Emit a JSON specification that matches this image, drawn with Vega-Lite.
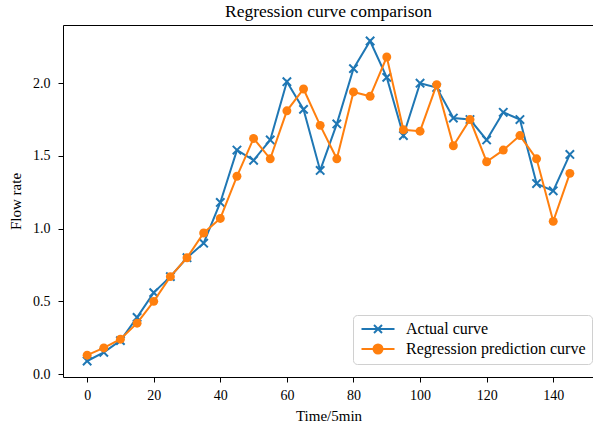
{
  "$schema": "https://vega.github.io/schema/vega-lite/v6.json",
  "autosize": "none",
  "width": 531,
  "height": 352,
  "padding": {"left": 63, "top": 25, "right": 0, "bottom": 52},
  "background": "white",
  "title": {"text": "Regression curve comparison", "font": "Liberation Serif", "fontSize": 17.5, "fontWeight": "normal", "color": "#000", "offset": 5},
  "config": {
    "view": {"stroke": "#000", "strokeWidth": 1},
    "axis": {"grid": false, "domain": false, "tickColor": "#000", "tickSize": 5, "tickWidth": 1, "labelFont": "Liberation Serif", "labelFontSize": 14, "labelColor": "#000", "titleFont": "Liberation Serif", "titleFontSize": 15, "titleFontWeight": "normal", "titleColor": "#000"}
  },
  "data": {"values": [
    {"t": 0, "series": "Actual curve", "value": 0.09}, {"t": 0, "series": "Regression prediction curve", "value": 0.13},
    {"t": 5, "series": "Actual curve", "value": 0.15}, {"t": 5, "series": "Regression prediction curve", "value": 0.18},
    {"t": 10, "series": "Actual curve", "value": 0.23}, {"t": 10, "series": "Regression prediction curve", "value": 0.24},
    {"t": 15, "series": "Actual curve", "value": 0.39}, {"t": 15, "series": "Regression prediction curve", "value": 0.35},
    {"t": 20, "series": "Actual curve", "value": 0.56}, {"t": 20, "series": "Regression prediction curve", "value": 0.50},
    {"t": 25, "series": "Actual curve", "value": 0.67}, {"t": 25, "series": "Regression prediction curve", "value": 0.67},
    {"t": 30, "series": "Actual curve", "value": 0.80}, {"t": 30, "series": "Regression prediction curve", "value": 0.80},
    {"t": 35, "series": "Actual curve", "value": 0.90}, {"t": 35, "series": "Regression prediction curve", "value": 0.97},
    {"t": 40, "series": "Actual curve", "value": 1.18}, {"t": 40, "series": "Regression prediction curve", "value": 1.07},
    {"t": 45, "series": "Actual curve", "value": 1.54}, {"t": 45, "series": "Regression prediction curve", "value": 1.36},
    {"t": 50, "series": "Actual curve", "value": 1.47}, {"t": 50, "series": "Regression prediction curve", "value": 1.62},
    {"t": 55, "series": "Actual curve", "value": 1.61}, {"t": 55, "series": "Regression prediction curve", "value": 1.48},
    {"t": 60, "series": "Actual curve", "value": 2.01}, {"t": 60, "series": "Regression prediction curve", "value": 1.81},
    {"t": 65, "series": "Actual curve", "value": 1.82}, {"t": 65, "series": "Regression prediction curve", "value": 1.96},
    {"t": 70, "series": "Actual curve", "value": 1.40}, {"t": 70, "series": "Regression prediction curve", "value": 1.71},
    {"t": 75, "series": "Actual curve", "value": 1.72}, {"t": 75, "series": "Regression prediction curve", "value": 1.48},
    {"t": 80, "series": "Actual curve", "value": 2.10}, {"t": 80, "series": "Regression prediction curve", "value": 1.94},
    {"t": 85, "series": "Actual curve", "value": 2.29}, {"t": 85, "series": "Regression prediction curve", "value": 1.91},
    {"t": 90, "series": "Actual curve", "value": 2.04}, {"t": 90, "series": "Regression prediction curve", "value": 2.18},
    {"t": 95, "series": "Actual curve", "value": 1.64}, {"t": 95, "series": "Regression prediction curve", "value": 1.68},
    {"t": 100, "series": "Actual curve", "value": 2.00}, {"t": 100, "series": "Regression prediction curve", "value": 1.67},
    {"t": 105, "series": "Actual curve", "value": 1.97}, {"t": 105, "series": "Regression prediction curve", "value": 1.99},
    {"t": 110, "series": "Actual curve", "value": 1.76}, {"t": 110, "series": "Regression prediction curve", "value": 1.57},
    {"t": 115, "series": "Actual curve", "value": 1.75}, {"t": 115, "series": "Regression prediction curve", "value": 1.75},
    {"t": 120, "series": "Actual curve", "value": 1.61}, {"t": 120, "series": "Regression prediction curve", "value": 1.46},
    {"t": 125, "series": "Actual curve", "value": 1.80}, {"t": 125, "series": "Regression prediction curve", "value": 1.54},
    {"t": 130, "series": "Actual curve", "value": 1.75}, {"t": 130, "series": "Regression prediction curve", "value": 1.64},
    {"t": 135, "series": "Actual curve", "value": 1.31}, {"t": 135, "series": "Regression prediction curve", "value": 1.48},
    {"t": 140, "series": "Actual curve", "value": 1.26}, {"t": 140, "series": "Regression prediction curve", "value": 1.05},
    {"t": 145, "series": "Actual curve", "value": 1.51}, {"t": 145, "series": "Regression prediction curve", "value": 1.38}
  ]},
  "encoding": {
    "x": {"field": "t", "type": "quantitative", "title": "Time/5min",
          "scale": {"domain": [-7.25, 152.25], "nice": false, "zero": false},
          "axis": {"values": [0, 20, 40, 60, 80, 100, 120, 140], "labelPadding": 6, "titlePadding": 6}},
    "y": {"field": "value", "type": "quantitative", "title": "Flow rate",
          "scale": {"domain": [-0.02, 2.40], "nice": false, "zero": false},
          "axis": {"values": [0, 0.5, 1, 1.5, 2], "format": ".1f", "labelPadding": 8, "titlePadding": 9}},
    "color": {"field": "series", "type": "nominal",
              "scale": {"domain": ["Actual curve", "Regression prediction curve"], "range": ["#1f77b4", "#ff7f0e"]},
              "legend": {"title": null, "orient": "none", "legendX": 290, "legendY": 290,
                         "labelFont": "Liberation Serif", "labelFontSize": 16, "labelColor": "#000", "labelLimit": 400,
                         "fillColor": "rgba(255,255,255,0.8)", "strokeColor": "#d0d0d0", "cornerRadius": 4, "padding": 6,
                         "symbolSize": 100, "symbolOffset": 11, "labelOffset": 20, "rowPadding": 3, "symbolStrokeWidth": 2,
                         "encode": {"symbols": {"update": {
                           "shape": {"signal": "datum.value === 'Actual curve' ? 'M-3.3,0H3.3M-0.8,-0.8L0.8,0.8M-0.8,0.8L0.8,-0.8' : 'M-3.3,0H3.3M0.9,0A0.9,0.9 0 1,1 -0.9,0A0.9,0.9 0 1,1 0.9,0Z'"},
                           "fill": {"scale": "color", "field": "value"},
                           "stroke": {"scale": "color", "field": "value"},
                           "strokeWidth": {"value": 2},
                           "opacity": {"value": 1}
                         }}}}}
  },
  "layer": [
    {"transform": [{"filter": "datum.series === 'Actual curve'"}], "mark": {"type": "line", "strokeWidth": 2}},
    {"transform": [{"filter": "datum.series === 'Actual curve'"}], "mark": {"type": "point", "shape": "M-1,-1L1,1M-1,1L1,-1", "filled": false, "size": 70, "strokeWidth": 2, "opacity": 1}},
    {"transform": [{"filter": "datum.series === 'Regression prediction curve'"}], "mark": {"type": "line", "strokeWidth": 2}},
    {"transform": [{"filter": "datum.series === 'Regression prediction curve'"}], "mark": {"type": "point", "shape": "circle", "filled": true, "size": 80, "opacity": 1}}
  ]
}
